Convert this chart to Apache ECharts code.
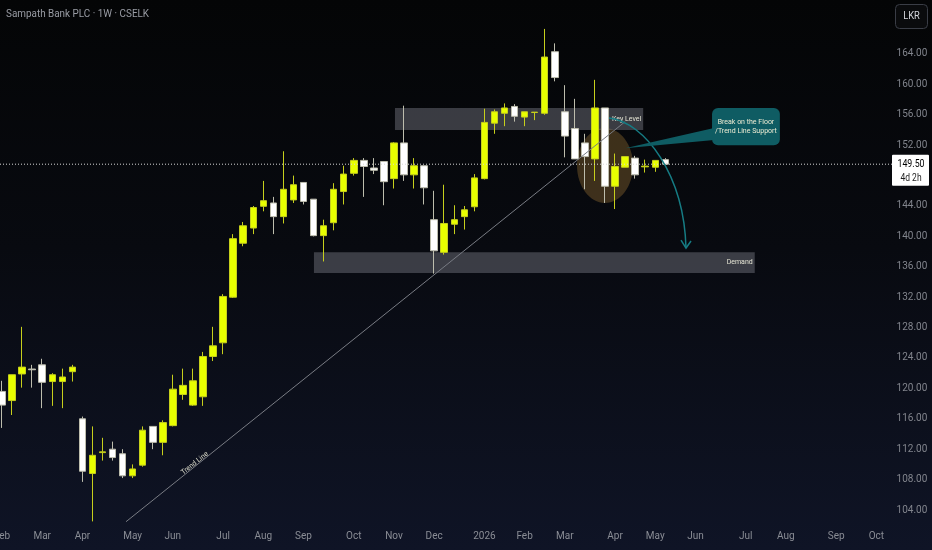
<!DOCTYPE html>
<html><head><meta charset="utf-8">
<script src="https://cdn.jsdelivr.net/npm/echarts@6/dist/echarts.min.js"></script>
<style>
html,body{margin:0;padding:0;background:#000;}
#c{width:932px;height:550px;background:linear-gradient(180deg,#040506 0%,#080a10 45%,#0f1426 100%);}
</style>
</head><body><div id="c"></div>
<script>
const FONT = "Roboto,'Liberation Sans',sans-serif";

// weekly OHLC, Sampath Bank PLC (CSELK), index 0 = week of 10 Feb 2025
const opens  = [119.6,118.4,121.9,122.55,123.1,120.9,120.9,122.2,116.0,108.8,111.55,112.0,111.4,108.5,109.9,115.0,112.9,115.1,119.2,117.8,118.9,124.2,126.0,132.0,139.1,141.1,143.96,144.4,142.6,144.8,147.1,144.9,140.1,141.8,145.9,148.3,150.0,149.0,149.85,147.6,152.3,148.1,149.3,142.2,137.9,141.6,142.6,143.9,147.6,154.9,156.2,157.1,155.7,156.3,156.2,164.3,156.4,154.2,152.3,150.2,156.9,146.6,149.1,150.3,149.15,149.1,150.1];
const closes = [117.8,121.8,122.8,122.45,120.8,121.8,121.5,122.8,109.1,111.2,111.65,110.9,108.5,109.4,114.5,112.9,115.5,119.9,120.4,121.0,124.2,125.6,132.1,139.7,141.4,143.8,144.7,142.6,146.2,146.8,144.6,140.1,141.4,146.2,148.2,150.0,149.2,148.7,147.2,152.3,148.1,149.3,146.4,138.1,141.7,142.2,143.5,147.7,155.0,156.4,156.9,155.8,156.4,156.35,163.6,160.9,153.2,150.2,150.5,156.9,146.6,149.2,150.5,148.1,149.25,150.0,149.5];
const lows   = [114.8,116.5,120.1,120.1,117.4,117.7,117.4,120.9,107.7,102.5,110.5,110.5,108.2,108.2,109.7,112.0,111.2,115.0,118.5,117.7,117.7,123.6,124.5,131.9,138.7,140.3,143.3,140.3,141.7,144.4,144.2,140.0,136.7,140.8,144.2,148.0,145.2,148.2,144.1,146.3,147.3,146.3,144.2,135.1,137.6,140.3,140.9,143.3,147.5,153.5,154.5,155.1,154.5,155.3,156.0,160.4,150.4,150.2,146.2,147.3,144.4,143.6,149.1,147.6,148.4,148.5,149.5];
const highs  = [121.0,121.8,128.1,123.1,123.9,122.0,122.6,123.1,116.3,115.0,113.5,113.0,112.0,110.0,115.0,115.0,115.8,121.8,122.6,122.6,124.8,128.1,132.4,140.3,141.9,144.0,147.3,145.2,151.2,148.0,147.1,144.9,142.2,147.0,149.3,150.3,150.3,150.3,149.85,152.4,157.2,150.3,149.3,146.0,146.8,144.1,144.0,148.2,156.8,156.7,157.5,157.4,156.4,156.35,167.3,165.4,159.9,158.1,153.5,160.6,156.9,150.9,150.5,150.6,150.1,150.0,150.3];

// time axis: 88 weekly slots (data + empty future weeks)
const WEEKS = 88;
const monthIdx    = [0,4,8,13,17,22,26,30,35,39,43,48,52,56,61,65,69,74,78,83,87];
const monthLabels = ['Feb','Mar','Apr','May','Jun','Jul','Aug','Sep','Oct','Nov','Dec','2026','Feb','Mar','Apr','May','Jun','Jul','Aug','Sep','Oct'];
const yTicks = [104,108,112,116,120,124,128,132,136,140,144,148,152,156,160,164];
const Y_MIN = 102.158, Y_MAX = 171.105;
const lastPrice = 149.50;

// drawings (x = week index, y = price)
const trendLine = [[12.34,102.46],[62.0,155.09]];
const keyLevel  = [[39.1,156.9],[63.8,154.0]];
const demand    = [[31.04,137.9],[74.9,135.2]];
const circleCenter = [60.0,149.33];
const arrowPath = [[60.4,155.58],[63.98,155.05],[67.86,148.08],[68.06,138.47]];
const callout = [[70.65,156.9],[77.4,152.0]];
const calloutTip = [62.0,151.6];
const calloutBase = [154.26,152.68];
const trendLabelAt = [19.4,109.79];

const categories = [];
for (let i = 0; i < WEEKS; i++) categories.push('w' + i);
const candles = opens.map((o, i) => [o, closes[i], lows[i], highs[i]]);
const labelMap = {};
monthIdx.forEach((k, j) => labelMap[k] = monthLabels[j]);

const chart = echarts.init(document.getElementById('c'), null, {renderer: 'canvas'});
chart.setOption({
  animation: false,
  backgroundColor: 'transparent',
  textStyle: {fontFamily: FONT},
  grid: {left: 2, right: 55.65, top: 0, bottom: 26, containLabel: false, outerBoundsMode: 'none'},
  xAxis: [{
    type: 'category', data: categories, boundaryGap: false,
    axisLine: {show: false}, axisTick: {show: false}, splitLine: {show: false},
    axisLabel: {
      interval: (i) => labelMap[i] !== undefined,
      formatter: (v, i) => labelMap[i] || '',
      color: '#8a8d95', fontSize: 10, margin: 7, fontFamily: FONT
    }
  }, {
    type: 'value', min: 0, max: WEEKS - 1, show: false
  }],
  yAxis: {
    type: 'value', position: 'right', min: Y_MIN, max: Y_MAX, scale: true,
    axisLine: {show: false}, axisTick: {show: false}, splitLine: {show: false},
    axisLabel: {customValues: yTicks, formatter: (v) => v.toFixed(2), color: '#82858d', fontSize: 10,
      align: 'center', margin: 35.6, fontFamily: FONT}
  },
  series: [{
    type: 'line', xAxisIndex: 1, data: [], z: 1, silent: true,
    markArea: {
      silent: true,
      itemStyle: {color: 'rgba(110,112,122,0.5)'},
      label: {position: 'insideRight', color: '#e4e4d4', fontSize: 7, fontFamily: FONT, distance: 2},
      data: [
        [{name: 'Key Level', coord: keyLevel[0]}, {coord: keyLevel[1]}],
        [{name: 'Demand', coord: demand[0]}, {coord: demand[1]}]
      ]
    }
  }, {
    type: 'candlestick', data: candles, barWidth: 7, z: 3,
    itemStyle: {
      color: '#e8ff00', color0: '#ffffff',
      borderColor: '#c6cf1c', borderColor0: '#bdbdad', borderColorDoji: '#d8e000', borderWidth: 1
    }
  }, {
    type: 'line', xAxisIndex: 1, data: trendLine, symbol: 'none', z: 4, silent: true,
    lineStyle: {color: '#797c84', width: 1}
  }]
});

function P(pt) { return chart.convertToPixel({xAxisIndex: 1, yAxisIndex: 0}, pt); }
const py = P([0, lastPrice])[1];
const c0 = P(circleCenter);
const a = arrowPath.map(P);
const cb0 = P(callout[0]), cb1 = P(callout[1]);
const tip = P(calloutTip);
const b1 = P([callout[0][0], calloutBase[0]]), b2 = P([callout[0][0], calloutBase[1]]);
const t0 = P(trendLine[0]), t1 = P(trendLine[1]);
const ang = Math.atan2(-(t1[1] - t0[1]), t1[0] - t0[0]);
const tl = P(trendLabelAt);

chart.setOption({
  graphic: [
    {type: 'ellipse', z: 0, silent: true, shape: {cx: c0[0], cy: c0[1], rx: 28, ry: 37.5},
      style: {fill: 'rgba(170,125,55,0.34)'}},
    {type: 'line', z: 50, silent: true, shape: {x1: 0, y1: py, x2: 892, y2: py},
      style: {stroke: '#d8d8d8', lineWidth: 1, lineDash: [1, 2]}},
    {type: 'text', z: 60, silent: true, x: tl[0], y: tl[1], rotation: ang,
      style: {text: 'Trend Line', fill: '#d6d6c6', font: '7px ' + FONT, align: 'center', verticalAlign: 'bottom'}},
    {type: 'bezierCurve', z: 60, silent: true,
      shape: {x1: a[0][0], y1: a[0][1], cpx1: a[1][0], cpy1: a[1][1], cpx2: a[2][0], cpy2: a[2][1], x2: a[3][0], y2: a[3][1]},
      style: {stroke: '#167c84', lineWidth: 1.5, fill: null}},
    {type: 'polyline', z: 60, silent: true,
      shape: {points: [[a[3][0] - 5, a[3][1] - 8], [a[3][0], a[3][1]], [a[3][0] + 5, a[3][1] - 7]]},
      style: {stroke: '#167c84', lineWidth: 1.5, fill: null}},
    {type: 'polygon', z: 60, silent: true,
      shape: {points: [[tip[0], tip[1]], [b1[0] + 2, b1[1]], [b2[0] + 2, b2[1]]]},
      style: {fill: '#0f5c63'}},
    {type: 'rect', z: 61, silent: true,
      shape: {x: cb0[0], y: cb0[1], width: cb1[0] - cb0[0], height: cb1[1] - cb0[1], r: 6},
      style: {fill: '#0f5c63'}},
    {type: 'text', z: 62, silent: true, x: (cb0[0] + cb1[0]) / 2, y: (cb0[1] + cb1[1]) / 2,
      style: {text: 'Break on the Floor\n/Trend Line Support', fill: '#ecebd2', font: '7px ' + FONT,
        align: 'center', verticalAlign: 'middle', lineHeight: 9}},
    {type: 'text', z: 70, silent: true, x: 6, y: 14, scaleX: 0.9,
      style: {text: 'Sampath Bank PLC · 1W · CSELK', fill: '#9a9da5', font: '11px ' + FONT, verticalAlign: 'middle'}},
    {type: 'rect', z: 70, silent: true, shape: {x: 895.5, y: 4.5, width: 32, height: 24, r: 4},
      style: {fill: '#0a0b0d', stroke: '#3a3d46', lineWidth: 1}},
    {type: 'text', z: 71, silent: true, x: 911.5, y: 16.5, scaleX: 0.85,
      style: {text: 'LKR', fill: '#d6d8de', font: '11px ' + FONT, align: 'center', verticalAlign: 'middle'}},
    {type: 'rect', z: 70, silent: true, shape: {x: 892, y: py - 9.5, width: 37, height: 31, r: 1},
      style: {fill: '#ffffff'}},
    {type: 'text', z: 71, silent: true, x: 911, y: py, scaleX: 0.8,
      style: {text: lastPrice.toFixed(2), fill: '#000000', font: '11px ' + FONT, align: 'center', verticalAlign: 'middle'}},
    {type: 'text', z: 71, silent: true, x: 911, y: py + 14.5, scaleX: 0.85,
      style: {text: '4d 2h', fill: '#1e1e1e', font: '10px ' + FONT, align: 'center', verticalAlign: 'middle'}}
  ]
});
</script>
</body></html>
